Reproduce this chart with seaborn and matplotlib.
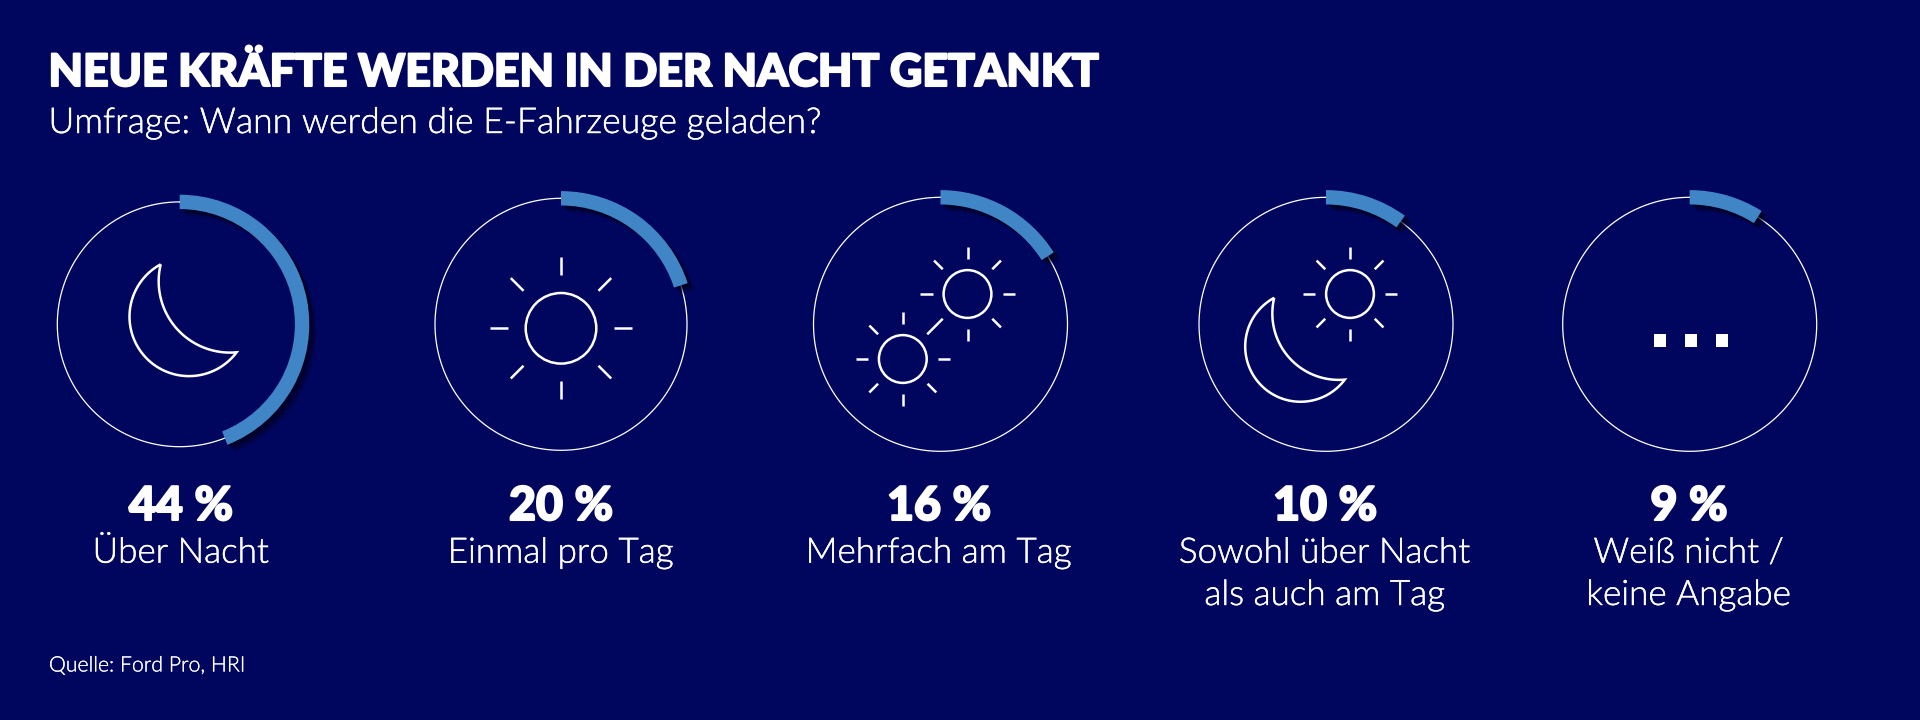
import numpy as np
import matplotlib
matplotlib.use("Agg")
import matplotlib.pyplot as plt
import matplotlib.patheffects as pe
from matplotlib.patches import Circle, Rectangle, PathPatch
from matplotlib.path import Path
import seaborn as sns

categories = ["Über Nacht", "Einmal pro Tag", "Mehrfach am Tag",
              "Sowohl über Nacht\nals auch am Tag", "Weiß nicht /\nkeine Angabe"]
values = [44, 20, 16, 10, 9]
value_labels = ["44\u2005%", "20\u2005%", "16\u2005%", "10\u2005%", "9\u2005%"]
title = "NEUE KRÄFTE WERDEN IN DER NACHT GETANKT"
subtitle = "Umfrage: Wann werden die E-Fahrzeuge geladen?"
source = "Quelle: Ford Pro, HRI"

BG = "#00065E"
BLUE = "#4085C6"
W, H = 1920, 720
ring_cx = [179.7, 561, 940.5, 1326, 1689.7]
ring_r = [122.4, 126, 127, 127, 127]
ring_cy = 324.3
RMAX = 160

sns.set_theme(style="white", rc={"figure.facecolor": BG, "savefig.facecolor": BG,
                                 "axes.facecolor": "none", "font.family": ["Lato", "DejaVu Sans"]})
fig = plt.figure(figsize=(W / 100, H / 100), dpi=100)

# overlay in pixel coordinates for icons and text
ov = fig.add_axes([0, 0, 1, 1], zorder=5)
ov.set_xlim(0, W); ov.set_ylim(H, 0); ov.axis("off"); ov.patch.set_alpha(0)

shadow = [pe.SimplePatchShadow(offset=(ox, -ox), shadow_rgbFace="#000014", alpha=a)
          for ox, a in ((5.5, 0.10), (4.6, 0.14), (3.8, 0.18), (3.0, 0.22), (2.2, 0.25), (1.4, 0.25))] + [pe.Normal()]

for i, (v, cx, r) in enumerate(zip(values, ring_cx, ring_r)):
    ax = fig.add_axes([(cx - RMAX) / W, 1 - (ring_cy + RMAX) / H, 2 * RMAX / W, 2 * RMAX / H],
                      projection="polar")
    ax.set_theta_zero_location("N")
    ax.set_theta_direction(-1)
    theta = np.linspace(0, 2 * np.pi, 361)
    sns.lineplot(x=theta, y=np.full_like(theta, r), ax=ax, color="white", linewidth=0.9,
                 sort=False, estimator=None, errorbar=None)
    sns.barplot(x=[v / 100 * 2 * np.pi], y=[r], orient="h", native_scale=True, width=14.4,
                color=BLUE, saturation=1, ax=ax, zorder=3, linewidth=0, edgecolor="none")
    ax.set_rlim(0, RMAX)
    ax.set_xticks([]); ax.set_yticks([])
    ax.set_xlabel(""); ax.set_ylabel("")
    ax.grid(False)
    ax.spines["polar"].set_visible(False)
    for p in ax.patches:
        p.set_path_effects(shadow)


def ray_set(cx, cy, inner, outer, skip=(), long_ray=None):
    for k in range(8):
        a = k * np.pi / 4
        if k in skip:
            continue
        o = long_ray[1] if long_ray and long_ray[0] == k else outer
        ov.plot([cx + inner * np.cos(a), cx + o * np.cos(a)],
                [cy + inner * np.sin(a), cy + o * np.sin(a)],
                color="white", lw=1.8, solid_capstyle="butt")


def sun(cx, cy, rad, inner, outer, **kw):
    ov.add_patch(Circle((cx, cy), rad, fill=False, ec="white", lw=1.8))
    ray_set(cx, cy, inner, outer, **kw)


def circle3(a, b, c):
    A = 2 * np.array([[b[0] - a[0], b[1] - a[1]], [c[0] - a[0], c[1] - a[1]]])
    y = np.array([b[0] ** 2 + b[1] ** 2 - a[0] ** 2 - a[1] ** 2,
                  c[0] ** 2 + c[1] ** 2 - a[0] ** 2 - a[1] ** 2])
    ctr = np.linalg.solve(A, y)
    return ctr, np.hypot(*(ctr - np.array(a)))


def moon(left, bottom, s):
    # geometry of the glyph relative to its left/bottom extremes
    tipA = np.array([31.2, -112.4]); tipB = np.array([107.1, -24.4])
    mid_out = np.array([0.0, -60.0]); mid_in = np.array([49.1, -46.0])
    co, ro = circle3(tipA, mid_out, tipB)
    ci, ri = circle3(tipA, mid_in, tipB)
    a0 = np.arctan2(*(tipA - co)[::-1]); a1 = np.arctan2(*(tipB - co)[::-1])
    if a1 > a0:
        a1 -= 2 * np.pi
    outer = co + ro * np.c_[np.cos(np.linspace(a0, a1, 80)), np.sin(np.linspace(a0, a1, 80))]
    b0 = np.arctan2(*(tipB - ci)[::-1]); b1 = np.arctan2(*(tipA - ci)[::-1])
    if b1 < b0:
        b1 += 2 * np.pi
    inner = ci + ri * np.c_[np.cos(np.linspace(b0, b1, 80)), np.sin(np.linspace(b0, b1, 80))]
    pts = np.vstack([outer, inner]) * s + np.array([left, bottom])
    ov.add_patch(PathPatch(Path(np.vstack([pts, pts[:1]]), closed=False), fill=False, ec="white",
                           lw=1.8, joinstyle="miter"))


moon(129.5, 376.7, 1.0)
sun(561, 328.3, 35.3, 53, 71)
sun(967.5, 294, 23.9, 35, 47.3, long_ray=(3, 57))
sun(902.8, 359, 23.9, 35, 47.3, skip=(7,))
sun(1350, 294, 23.9, 35, 47.3)
moon(1245.2, 402.3, 0.93)
for x0 in (1654.3, 1685, 1716):
    ov.add_patch(Rectangle((x0, 334), 11.8, 13.3, fc="white", ec="none"))


def bolder(w):
    return [pe.withStroke(linewidth=w, foreground="white")]


ov.text(48.5, 86, title, color="white", fontsize=32.15, fontweight=900, va="baseline", ha="left",
        path_effects=bolder(1.5))
ov.text(48.5, 133, subtitle, color="white", fontsize=25.6, fontweight=300, va="baseline", ha="left",
        path_effects=bolder(0.3))
ov.text(49, 671.5, source, color="white", fontsize=15.3, fontweight=300, va="baseline", ha="left",
        path_effects=bolder(0.2))

label_x = [181, 561, 939, 1325, 1689]
line_y = [562.7, 605]
for x, pct, cat in zip(label_x, value_labels, categories):
    ov.text(x, 520, pct, color="white", fontsize=33.5, fontweight=900, ha="center", va="baseline",
            path_effects=bolder(1.5))
    for y, line in zip(line_y, cat.split("\n")):
        ov.text(x, y, line, color="white", fontsize=25.25, fontweight=300, ha="center", va="baseline",
                path_effects=bolder(0.3))

fig.savefig("out.png", dpi=100, facecolor=BG)
